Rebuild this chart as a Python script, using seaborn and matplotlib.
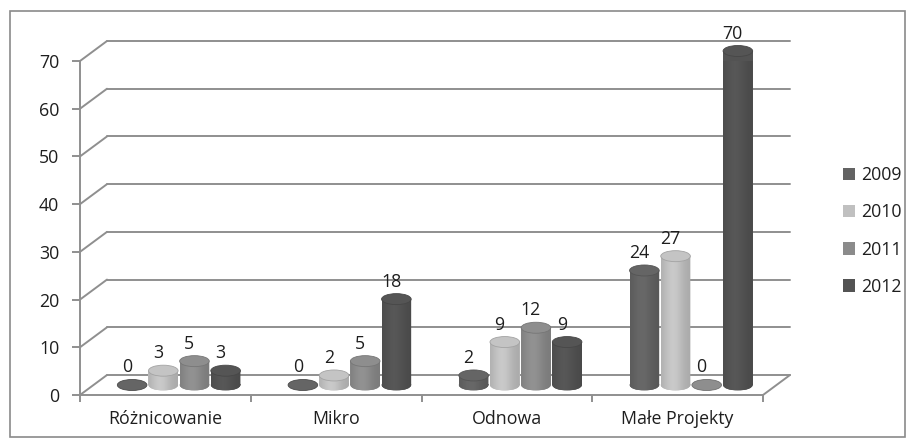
import matplotlib
matplotlib.use("Agg")
import matplotlib.pyplot as plt
import seaborn as sns
import pandas as pd
import numpy as np
from matplotlib.patches import Ellipse, Rectangle, Patch
from matplotlib.path import Path
from matplotlib.colors import to_rgb

categories = ["Różnicowanie", "Mikro", "Odnowa", "Małe Projekty"]
years = ["2009", "2010", "2011", "2012"]
v2009 = [0, 0, 2, 24]
v2010 = [3, 2, 9, 27]
v2011 = [5, 5, 12, 0]
v2012 = [3, 18, 9, 70]
yticks = [0, 10, 20, 30, 40, 50, 60, 70]

colors = {"2009": "#636363", "2010": "#c0c0c0", "2011": "#8b8b8b", "2012": "#535353"}

rows = []
for yr, vals in zip(years, [v2009, v2010, v2011, v2012]):
    for c, v in zip(categories, vals):
        rows.append({"cat": c, "year": yr, "val": v})
df = pd.DataFrame(rows)

sns.set_theme(style="white")
plt.rcParams["font.family"] = ["Open Sans", "DejaVu Sans"]
FS = 12.8
TXT = "#1e1e1e"
GC = "#8f8f8f"

W, H = 916, 445
fig = plt.figure(figsize=(W / 100, H / 100), dpi=100)
ax_l, ax_b, ax_w, ax_h = 80, 50, 683, 334
ax = fig.add_axes([ax_l / W, ax_b / H, ax_w / W, ax_h / H])

sns.barplot(data=df, x="cat", y="val", hue="year", order=categories, hue_order=years,
            palette=colors, width=0.73, gap=0.05, saturation=1, legend=False, ax=ax,
            zorder=3, linewidth=0)

px_x = ax_w / 4.0
px_y = ax_h / 70.0
ddx = 27 / px_x
ddy = 20 / px_y
cap_h = 11 / px_y

# back wall gridlines and side diagonals
for y in yticks:
    ax.plot([-0.5 + ddx, 3.5 + ddx], [y + ddy, y + ddy], color=GC, lw=1.4,
            clip_on=False, zorder=0)
    ax.plot([-0.5, -0.5 + ddx], [y, y + ddy], color=GC, lw=1.4, clip_on=False, zorder=0)
ax.plot([3.5, 3.5 + ddx], [0, ddy], color=GC, lw=1.4, clip_on=False, zorder=0)

# cylinder shading profile across the bar width
t = np.linspace(0, 1, 80)
prof = 0.88 + 0.17 * np.exp(-((t - 0.4) / 0.35) ** 2)

for cont, yr in zip(ax.containers, years):
    col = np.array(to_rgb(colors[yr]))
    grad = np.clip(col[None, None, :] * prof[None, :, None], 0, 1)
    for bar, v in zip(cont, cont.datavalues):
        bar.set_x(bar.get_x() + ddx / 2)
        bar.set_y(ddy / 2)
        bar.set_clip_on(False)
        w = bar.get_width()
        x0 = bar.get_x()
        cx = x0 + w / 2
        base = ddy / 2
        top = base + v
        bottom_el = Ellipse((cx, base), w, cap_h, facecolor=col * 0.95, edgecolor="none",
                            zorder=2.9, clip_on=False)
        ax.add_patch(bottom_el)
        if v > 0:
            rp = bar.get_path().transformed(bar.get_patch_transform())
            ep = bottom_el.get_path().transformed(bottom_el.get_patch_transform())
            clip = Path.make_compound_path(rp, ep)
            im = ax.imshow(grad, extent=[x0, x0 + w, base - cap_h / 2, top], aspect="auto",
                           zorder=3.05, interpolation="bilinear")
            im.set_clip_path(clip, ax.transData)
        ax.add_patch(Ellipse((cx, top), w, cap_h, facecolor=np.clip(col * 1.02, 0, 1),
                             edgecolor=col * 0.85, lw=0.6, zorder=3.1, clip_on=False))
        ax.text(cx - 0.03, top + cap_h / 2 + 3 / px_y, f"{int(v)}", ha="center",
                va="bottom", fontsize=FS, color=TXT, clip_on=False)

ax.set_xlim(-0.5, 3.5)
ax.set_ylim(0, 70)

# axes styling
for s in ["top", "right"]:
    ax.spines[s].set_visible(False)
for s in ["left", "bottom"]:
    ax.spines[s].set_color(GC)
    ax.spines[s].set_linewidth(1.4)
ax.set_yticks(yticks)
ax.set_yticklabels([str(t) for t in yticks])
ax.tick_params(axis="y", which="major", direction="out", length=6, width=1.4, color=GC,
               labelsize=FS, labelcolor=TXT, pad=9, left=True)
ax.set_xticks([-0.5, 0.5, 1.5, 2.5, 3.5])
ax.set_xticklabels([])
ax.set_xticks([0, 1, 2, 3], minor=True)
ax.set_xticklabels(categories, minor=True)
ax.tick_params(axis="x", which="major", direction="out", length=5, width=1.4, color=GC,
               bottom=True)
ax.tick_params(axis="x", which="minor", length=0, labelsize=FS, labelcolor=TXT, pad=11)
ax.set_xlabel("")
ax.set_ylabel("")
ax.grid(False)
ax.set_facecolor("none")

handles = [Patch(facecolor=colors[y], edgecolor="none", label=y) for y in years]
fig.legend(handles=handles, loc="center left", bbox_to_anchor=(843 / W, 1 - 231 / H),
           frameon=False, fontsize=FS, handlelength=0.7, handleheight=0.7, borderpad=0,
           borderaxespad=0, handletextpad=0.3, labelspacing=1.08, labelcolor=TXT)

fig.add_artist(Rectangle((10 / W, 8 / H), 895 / W, 426 / H, transform=fig.transFigure,
                         fill=False, edgecolor="#8a8a8a", lw=1.2))

fig.savefig("out.png", dpi=100)
